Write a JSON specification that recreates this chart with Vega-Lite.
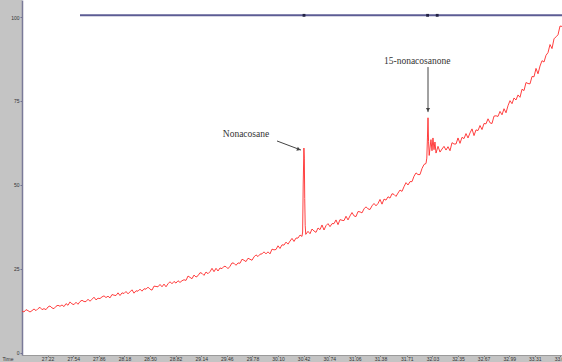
{
  "$schema": "https://vega.github.io/schema/vega-lite/v6.json",
  "autosize": "none",
  "width": 540,
  "height": 355,
  "padding": {"left": 22, "top": 0, "right": 0, "bottom": 7},
  "background": "#c4c4c4",
  "config": {
    "view": {"stroke": null, "fill": "#ffffff"},
    "axis": {"labelFont": "Liberation Sans", "titleFont": "Liberation Sans", "grid": false, "labelOverlap": false}
  },
  "datasets": {
    "trace": [
      {"t": 26.900, "v": 12.5}, {"t": 26.925, "v": 12.2}, {"t": 26.950, "v": 12.9}, {"t": 26.975, "v": 12.6},
      {"t": 27.000, "v": 12.2}, {"t": 27.025, "v": 12.6}, {"t": 27.050, "v": 13.1}, {"t": 27.075, "v": 12.6},
      {"t": 27.100, "v": 13.2}, {"t": 27.125, "v": 13.6}, {"t": 27.150, "v": 12.9}, {"t": 27.175, "v": 13.2},
      {"t": 27.200, "v": 12.9}, {"t": 27.225, "v": 13.7}, {"t": 27.250, "v": 14.0}, {"t": 27.275, "v": 13.4},
      {"t": 27.300, "v": 13.2}, {"t": 27.325, "v": 13.9}, {"t": 27.350, "v": 14.2}, {"t": 27.375, "v": 13.9},
      {"t": 27.400, "v": 14.3}, {"t": 27.425, "v": 13.8}, {"t": 27.450, "v": 14.7}, {"t": 27.475, "v": 14.2},
      {"t": 27.500, "v": 15.2}, {"t": 27.525, "v": 14.6}, {"t": 27.550, "v": 14.4}, {"t": 27.575, "v": 15.1},
      {"t": 27.600, "v": 14.5}, {"t": 27.625, "v": 15.3}, {"t": 27.650, "v": 15.7}, {"t": 27.675, "v": 15.3},
      {"t": 27.700, "v": 15.3}, {"t": 27.725, "v": 16.0}, {"t": 27.750, "v": 15.4}, {"t": 27.775, "v": 16.0},
      {"t": 27.800, "v": 16.6}, {"t": 27.825, "v": 15.8}, {"t": 27.850, "v": 16.3}, {"t": 27.875, "v": 16.2},
      {"t": 27.900, "v": 16.7}, {"t": 27.925, "v": 17.0}, {"t": 27.950, "v": 16.5}, {"t": 27.975, "v": 16.9},
      {"t": 28.000, "v": 16.4}, {"t": 28.025, "v": 17.4}, {"t": 28.050, "v": 17.2}, {"t": 28.075, "v": 17.1},
      {"t": 28.100, "v": 17.9}, {"t": 28.125, "v": 17.1}, {"t": 28.150, "v": 17.9}, {"t": 28.175, "v": 17.7},
      {"t": 28.200, "v": 18.3}, {"t": 28.225, "v": 17.6}, {"t": 28.250, "v": 18.2}, {"t": 28.275, "v": 18.8},
      {"t": 28.300, "v": 17.8}, {"t": 28.325, "v": 18.5}, {"t": 28.350, "v": 18.4}, {"t": 28.375, "v": 19.0},
      {"t": 28.400, "v": 18.4}, {"t": 28.425, "v": 19.1}, {"t": 28.450, "v": 19.0}, {"t": 28.475, "v": 19.6},
      {"t": 28.500, "v": 19.0}, {"t": 28.525, "v": 18.7}, {"t": 28.550, "v": 19.9}, {"t": 28.575, "v": 19.8},
      {"t": 28.600, "v": 19.7}, {"t": 28.625, "v": 20.4}, {"t": 28.650, "v": 19.7}, {"t": 28.675, "v": 20.5},
      {"t": 28.700, "v": 19.7}, {"t": 28.725, "v": 20.6}, {"t": 28.750, "v": 21.2}, {"t": 28.775, "v": 20.6},
      {"t": 28.800, "v": 21.3}, {"t": 28.825, "v": 20.8}, {"t": 28.850, "v": 21.5}, {"t": 28.875, "v": 21.0},
      {"t": 28.900, "v": 21.5}, {"t": 28.925, "v": 21.8}, {"t": 28.950, "v": 21.6}, {"t": 28.975, "v": 22.9},
      {"t": 29.000, "v": 22.5}, {"t": 29.025, "v": 22.1}, {"t": 29.050, "v": 23.2}, {"t": 29.075, "v": 22.6},
      {"t": 29.100, "v": 23.0}, {"t": 29.125, "v": 23.9}, {"t": 29.150, "v": 23.7}, {"t": 29.175, "v": 23.1},
      {"t": 29.200, "v": 24.1}, {"t": 29.225, "v": 23.6}, {"t": 29.250, "v": 24.2}, {"t": 29.275, "v": 25.2},
      {"t": 29.300, "v": 24.2}, {"t": 29.325, "v": 25.2}, {"t": 29.350, "v": 24.4}, {"t": 29.375, "v": 25.3},
      {"t": 29.400, "v": 25.1}, {"t": 29.425, "v": 25.8}, {"t": 29.450, "v": 25.7}, {"t": 29.475, "v": 25.1},
      {"t": 29.500, "v": 25.8}, {"t": 29.525, "v": 26.8}, {"t": 29.550, "v": 26.7}, {"t": 29.575, "v": 26.1},
      {"t": 29.600, "v": 26.8}, {"t": 29.625, "v": 26.7}, {"t": 29.650, "v": 27.9}, {"t": 29.675, "v": 27.6},
      {"t": 29.700, "v": 27.2}, {"t": 29.725, "v": 28.2}, {"t": 29.750, "v": 27.9}, {"t": 29.775, "v": 27.6},
      {"t": 29.800, "v": 28.6}, {"t": 29.825, "v": 29.2}, {"t": 29.850, "v": 28.7}, {"t": 29.875, "v": 29.4},
      {"t": 29.900, "v": 29.5}, {"t": 29.925, "v": 30.1}, {"t": 29.950, "v": 29.5}, {"t": 29.975, "v": 30.1},
      {"t": 30.000, "v": 29.5}, {"t": 30.025, "v": 30.9}, {"t": 30.050, "v": 30.7}, {"t": 30.075, "v": 30.8},
      {"t": 30.100, "v": 31.9}, {"t": 30.125, "v": 31.1}, {"t": 30.150, "v": 32.2}, {"t": 30.175, "v": 32.1},
      {"t": 30.200, "v": 33.0}, {"t": 30.225, "v": 32.4}, {"t": 30.250, "v": 33.3}, {"t": 30.275, "v": 34.1},
      {"t": 30.300, "v": 33.2}, {"t": 30.325, "v": 34.2}, {"t": 30.350, "v": 34.2}, {"t": 30.375, "v": 35.1},
      {"t": 30.400, "v": 34.7}, {"t": 30.408, "v": 36.0}, {"t": 30.415, "v": 50.0}, {"t": 30.424, "v": 61.0},
      {"t": 30.429, "v": 58.0}, {"t": 30.434, "v": 46.0}, {"t": 30.440, "v": 38.0}, {"t": 30.447, "v": 35.3},
      {"t": 30.450, "v": 35.4}, {"t": 30.475, "v": 36.2}, {"t": 30.500, "v": 35.5}, {"t": 30.525, "v": 36.9},
      {"t": 30.550, "v": 36.3}, {"t": 30.575, "v": 35.9}, {"t": 30.600, "v": 37.2}, {"t": 30.625, "v": 36.7},
      {"t": 30.650, "v": 38.1}, {"t": 30.675, "v": 36.6}, {"t": 30.700, "v": 37.9}, {"t": 30.725, "v": 38.5},
      {"t": 30.750, "v": 37.6}, {"t": 30.775, "v": 38.5}, {"t": 30.800, "v": 38.5}, {"t": 30.825, "v": 39.6},
      {"t": 30.850, "v": 38.2}, {"t": 30.875, "v": 39.7}, {"t": 30.900, "v": 39.5}, {"t": 30.925, "v": 39.4},
      {"t": 30.950, "v": 40.7}, {"t": 30.975, "v": 39.6}, {"t": 31.000, "v": 40.8}, {"t": 31.025, "v": 41.8},
      {"t": 31.050, "v": 40.8}, {"t": 31.075, "v": 40.6}, {"t": 31.100, "v": 42.1}, {"t": 31.125, "v": 42.0},
      {"t": 31.150, "v": 41.7}, {"t": 31.175, "v": 42.9}, {"t": 31.200, "v": 43.5}, {"t": 31.225, "v": 42.9},
      {"t": 31.250, "v": 42.7}, {"t": 31.275, "v": 43.8}, {"t": 31.300, "v": 44.5}, {"t": 31.325, "v": 43.8},
      {"t": 31.350, "v": 44.5}, {"t": 31.375, "v": 45.7}, {"t": 31.400, "v": 44.3}, {"t": 31.425, "v": 45.8},
      {"t": 31.450, "v": 45.5}, {"t": 31.475, "v": 46.5}, {"t": 31.500, "v": 46.1}, {"t": 31.525, "v": 47.4},
      {"t": 31.550, "v": 47.2}, {"t": 31.575, "v": 46.6}, {"t": 31.600, "v": 47.6}, {"t": 31.625, "v": 48.5},
      {"t": 31.650, "v": 48.1}, {"t": 31.675, "v": 49.5}, {"t": 31.700, "v": 50.7}, {"t": 31.725, "v": 50.0},
      {"t": 31.750, "v": 51.0}, {"t": 31.775, "v": 51.0}, {"t": 31.800, "v": 52.6}, {"t": 31.825, "v": 53.6},
      {"t": 31.850, "v": 53.1}, {"t": 31.875, "v": 53.1}, {"t": 31.900, "v": 54.9}, {"t": 31.925, "v": 56.1},
      {"t": 31.950, "v": 56.4}, {"t": 31.960, "v": 58.0}, {"t": 31.968, "v": 64.0}, {"t": 31.975, "v": 70.0},
      {"t": 31.982, "v": 63.0}, {"t": 31.990, "v": 58.8}, {"t": 32.000, "v": 61.0}, {"t": 32.012, "v": 63.5},
      {"t": 32.025, "v": 60.2}, {"t": 32.037, "v": 64.0}, {"t": 32.050, "v": 60.5}, {"t": 32.062, "v": 62.8},
      {"t": 32.075, "v": 59.5}, {"t": 32.100, "v": 61.5}, {"t": 32.125, "v": 59.8}, {"t": 32.150, "v": 60.7},
      {"t": 32.175, "v": 61.5}, {"t": 32.200, "v": 60.4}, {"t": 32.225, "v": 61.4}, {"t": 32.250, "v": 60.2},
      {"t": 32.275, "v": 62.6}, {"t": 32.300, "v": 62.2}, {"t": 32.325, "v": 62.2}, {"t": 32.350, "v": 64.0},
      {"t": 32.375, "v": 62.4}, {"t": 32.400, "v": 64.2}, {"t": 32.425, "v": 63.8}, {"t": 32.450, "v": 65.3},
      {"t": 32.475, "v": 64.0}, {"t": 32.500, "v": 65.5}, {"t": 32.525, "v": 66.7}, {"t": 32.550, "v": 64.7},
      {"t": 32.575, "v": 66.4}, {"t": 32.600, "v": 66.2}, {"t": 32.625, "v": 67.7}, {"t": 32.650, "v": 66.5},
      {"t": 32.675, "v": 68.3}, {"t": 32.700, "v": 68.2}, {"t": 32.725, "v": 69.7}, {"t": 32.750, "v": 68.5},
      {"t": 32.775, "v": 68.3}, {"t": 32.800, "v": 70.5}, {"t": 32.825, "v": 70.6}, {"t": 32.850, "v": 70.4},
      {"t": 32.875, "v": 71.9}, {"t": 32.900, "v": 70.9}, {"t": 32.925, "v": 72.7}, {"t": 32.950, "v": 71.5},
      {"t": 32.975, "v": 73.6}, {"t": 33.000, "v": 75.1}, {"t": 33.025, "v": 74.2}, {"t": 33.050, "v": 75.9},
      {"t": 33.075, "v": 75.3}, {"t": 33.100, "v": 76.8}, {"t": 33.125, "v": 76.1}, {"t": 33.150, "v": 78.5},
      {"t": 33.175, "v": 78.1}, {"t": 33.200, "v": 80.5}, {"t": 33.225, "v": 80.2}, {"t": 33.250, "v": 80.1},
      {"t": 33.275, "v": 82.3}, {"t": 33.300, "v": 82.2}, {"t": 33.325, "v": 84.7}, {"t": 33.350, "v": 83.1},
      {"t": 33.375, "v": 85.4}, {"t": 33.400, "v": 87.0}, {"t": 33.425, "v": 86.6}, {"t": 33.450, "v": 88.6},
      {"t": 33.475, "v": 89.4}, {"t": 33.500, "v": 91.8}, {"t": 33.525, "v": 90.6}, {"t": 33.550, "v": 93.5},
      {"t": 33.575, "v": 94.1}, {"t": 33.600, "v": 94.7}, {"t": 33.625, "v": 97.3}, {"t": 33.650, "v": 97.2}
    ],
    "eventBar": [{"t": 27.625, "t2": 33.65, "v": 100.5}],
    "eventMarks": [{"t": 30.425, "v": 100.5}, {"t": 31.97, "v": 100.5}, {"t": 32.09, "v": 100.5}],
    "labels": [
      {"t": 29.70, "v": 65.2, "name": "Nonacosane"},
      {"t": 31.84, "v": 87.0, "name": "15-nonacosanone"}
    ],
    "arrows": [
      {"t": 30.0875, "v": 63.1, "t2": 30.3875, "v2": 60.4},
      {"t": 31.975, "v": 85.1, "t2": 31.975, "v2": 71.7}
    ],
    "heads": [
      {"t": 30.36, "v": 60.6, "shape": "triangle-right", "angle": 20.6},
      {"t": 31.975, "v": 72.4, "shape": "triangle-down", "angle": 0}
    ]
  },
  "layer": [
    {
      "data": {"name": "trace"},
      "mark": {"type": "line", "color": "#ff2a2a", "strokeWidth": 0.9, "interpolate": "linear"},
      "encoding": {
        "x": {
          "field": "t", "type": "quantitative",
          "scale": {"domain": [26.9, 33.65], "nice": false, "zero": false},
          "axis": {
            "values": [27.22, 27.54, 27.86, 28.18, 28.50, 28.82, 29.14, 29.46, 29.78, 30.10, 30.42, 30.74, 31.06, 31.38, 31.71, 32.03, 32.35, 32.67, 32.99, 33.31, 33.63],
            "tickCount": 30,
            "format": ".2f",
            "labelFontSize": 5,
            "labelColor": "#333333",
            "labelPadding": 0,
            "labelOverlap": false,
            "labelFlush": false,
            "tickSize": 1.5,
            "tickColor": "#808080",
            "domainColor": "#9a9a9a",
            "domainWidth": 1,
            "title": "Time",
            "titleFontSize": 5,
            "titleFontWeight": "normal",
            "titleColor": "#333333",
            "titleX": -20,
            "titleY": 1,
            "titleAlign": "left",
            "titleBaseline": "top"
          }
        },
        "y": {
          "field": "v", "type": "quantitative",
          "scale": {"domain": [-0.6, 105.06], "nice": false, "zero": false},
          "axis": {
            "values": [0, 25, 50, 75, 100],
            "labelFontSize": 5,
            "labelColor": "#333333",
            "labelPadding": 1,
            "labelOverlap": false,
            "labelFlush": false,
            "tickSize": 2,
            "tickColor": "#707090",
            "domainColor": "#7a7a98",
            "domainWidth": 1.5,
            "title": null
          }
        }
      }
    },
    {
      "data": {"name": "eventBar"},
      "mark": {"type": "rule", "color": "#5c5c94", "strokeWidth": 2},
      "encoding": {
        "x": {"field": "t", "type": "quantitative"},
        "x2": {"field": "t2"},
        "y": {"field": "v", "type": "quantitative"}
      }
    },
    {
      "data": {"name": "eventMarks"},
      "mark": {"type": "square", "color": "#222244", "size": 8, "opacity": 1},
      "encoding": {
        "x": {"field": "t", "type": "quantitative"},
        "y": {"field": "v", "type": "quantitative"}
      }
    },
    {
      "data": {"name": "arrows"},
      "mark": {"type": "rule", "color": "#444444", "strokeWidth": 1},
      "encoding": {
        "x": {"field": "t", "type": "quantitative"},
        "y": {"field": "v", "type": "quantitative"},
        "x2": {"field": "t2"},
        "y2": {"field": "v2"}
      }
    },
    {
      "data": {"name": "heads"},
      "mark": {"type": "point", "filled": true, "color": "#444444", "size": 18, "opacity": 1},
      "encoding": {
        "x": {"field": "t", "type": "quantitative"},
        "y": {"field": "v", "type": "quantitative"},
        "shape": {"field": "shape", "type": "nominal", "scale": null},
        "angle": {"field": "angle", "type": "quantitative", "scale": null}
      }
    },
    {
      "data": {"name": "labels"},
      "mark": {"type": "text", "font": "Liberation Serif", "fontSize": 9.5, "color": "#333333"},
      "encoding": {
        "x": {"field": "t", "type": "quantitative"},
        "y": {"field": "v", "type": "quantitative"},
        "text": {"field": "name"}
      }
    }
  ]
}
